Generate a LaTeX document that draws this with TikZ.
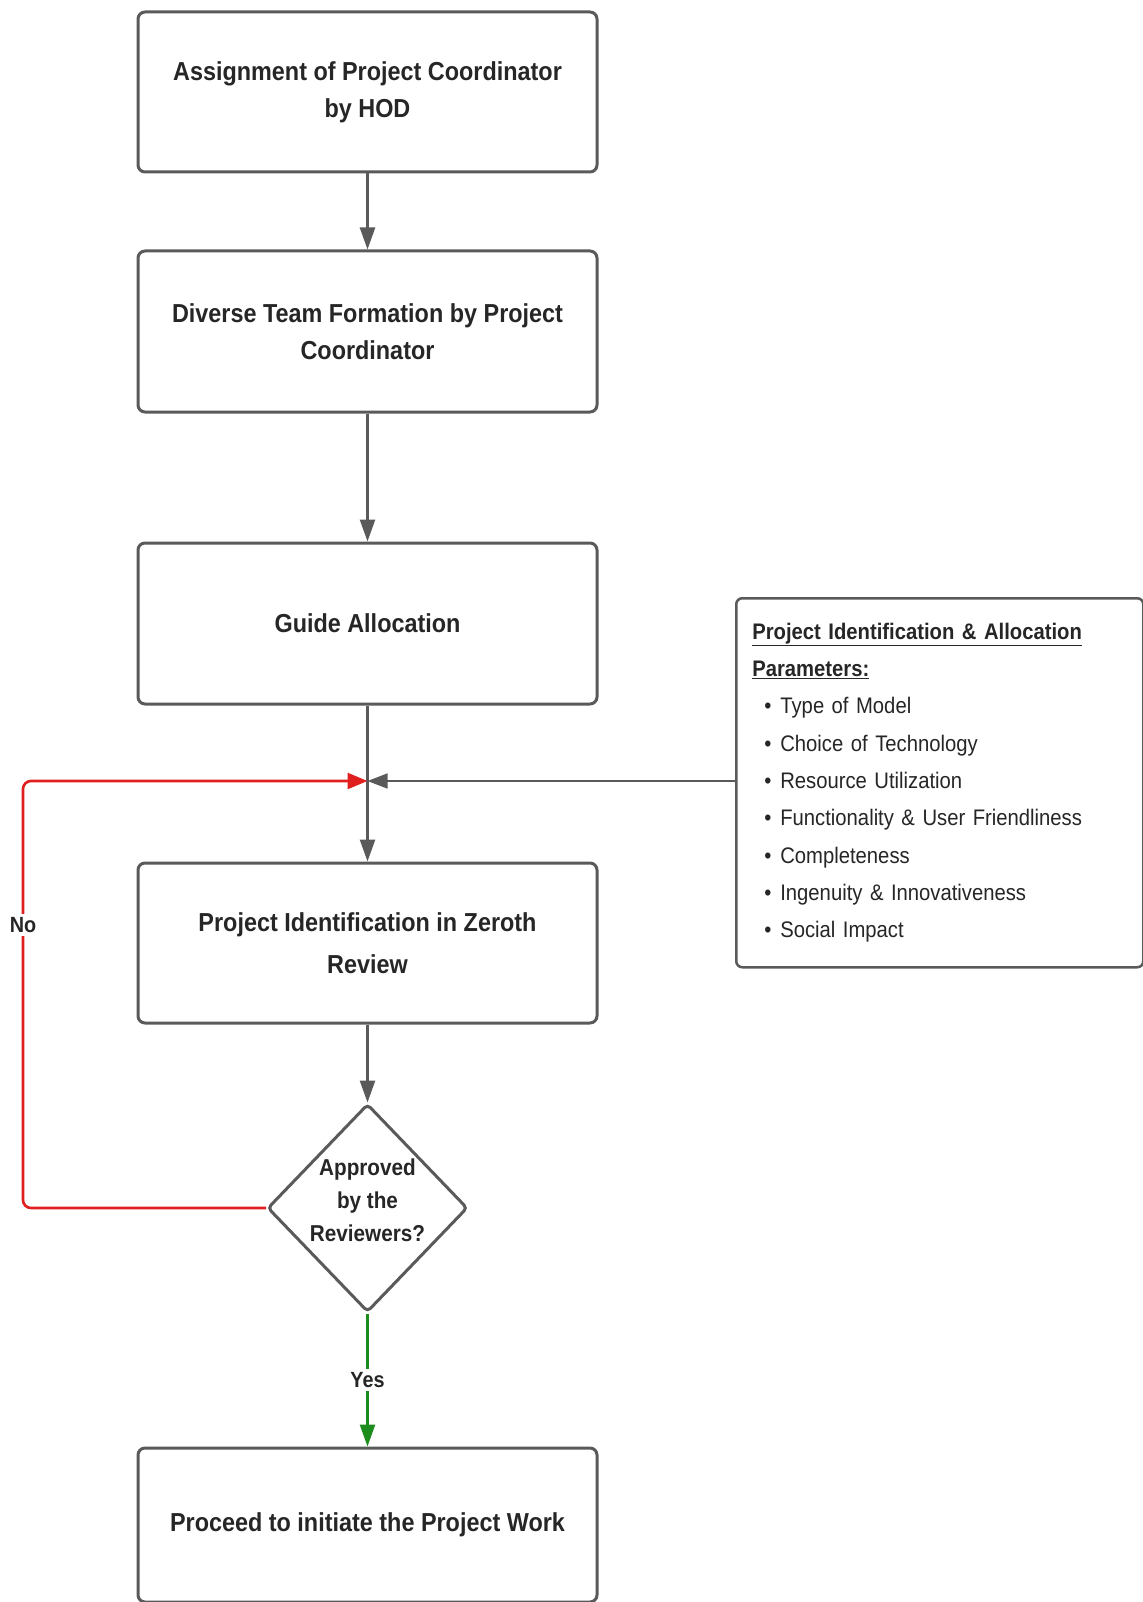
\documentclass[tikz,border=0pt]{standalone}
\usepackage{fontspec}
\setmainfont{Liberation Sans}[FakeStretch=0.9]
\usetikzlibrary{arrows.meta,shapes.geometric}
\definecolor{boxgray}{HTML}{5A5A5A}
\definecolor{txtgray}{HTML}{262626}
\definecolor{noRed}{HTML}{E0201F}
\definecolor{yesGreen}{HTML}{1C8C1C}
\tikzset{
  procbox/.style={draw=boxgray, line width=3pt, rounded corners=7pt, fill=white,
    minimum width=459pt, align=center, text=txtgray,
    font=\fontsize{26}{37}\selectfont\bfseries},
  flow/.style={draw=boxgray, line width=2.6pt, -{Triangle[length=22pt,width=15pt]}},
  thinflow/.style={draw=boxgray, line width=1.5pt, -{Triangle[length=20pt,width=15pt]}},
  noflow/.style={draw=noRed, line width=2.6pt, rounded corners=8pt, -{Triangle[length=20pt,width=16pt]}},
  yesflow/.style={draw=yesGreen, line width=2.6pt, -{Triangle[length=22pt,width=15pt]}},
  lbl/.style={fill=white, text=txtgray, inner sep=3pt, font=\fontsize{22}{26}\selectfont\bfseries},
}
\begin{document}
\begin{tikzpicture}[x=1pt,y=-1pt]
\useasboundingbox (0,0) rectangle (1142,1602);
\node[procbox, minimum height=160pt] (b1) at (367.5,92) {Assignment of Project Coordinator\\by HOD};
\node[procbox, minimum height=161pt] (b2) at (367.5,331.5) {Diverse Team Formation by Project\\Coordinator};
\node[procbox, minimum height=161pt] (b3) at (367.5,623.5) {Guide Allocation};
\node[procbox, minimum height=160pt, font=\fontsize{26}{42}\selectfont\bfseries] (b4) at (367.5,943) {Project Identification in Zeroth\\Review};
\node[draw=boxgray, line width=3pt, rounded corners=4pt, fill=white, diamond, inner sep=0pt,
  minimum width=200pt, minimum height=208pt] (dia) at (367.5,1208) {};
\node[align=center, text=txtgray, font=\fontsize{23}{33}\selectfont\bfseries] (diat) at (367.5,1200) {Approved\\by the\\Reviewers?};
\node[procbox, minimum height=154pt] (b5) at (367.5,1525) {Proceed to initiate the Project Work};
\node[draw=boxgray, line width=2.5pt, rounded corners=6pt, fill=white, anchor=north west,
  minimum width=407pt, minimum height=369pt, text width=375pt, inner xsep=16pt,
  align=left, text=txtgray, font=\fontsize{22.5}{37.3}\selectfont] (params) at (735,597)
  {\textbf{\underline{Project Identification \& Allocation}}\\
   \textbf{\underline{Parameters:}}\\
   \hspace*{12pt}\textbullet\hspace{9pt}Type of Model\\
   \hspace*{12pt}\textbullet\hspace{9pt}Choice of Technology\\
   \hspace*{12pt}\textbullet\hspace{9pt}Resource Utilization\\
   \hspace*{12pt}\textbullet\hspace{9pt}Functionality \& User Friendliness\\
   \hspace*{12pt}\textbullet\hspace{9pt}Completeness\\
   \hspace*{12pt}\textbullet\hspace{9pt}Ingenuity \& Innovativeness\\
   \hspace*{12pt}\textbullet\hspace{9pt}Social Impact};
\coordinate (j) at (367.5,781);
\coordinate (noturn) at (23,781);
\draw[flow] (b1) -- (b2);
\draw[flow] (b2) -- (b3);
\draw[flow] (b3) -- (b4);
\draw[flow] (b4) -- (dia);
\draw[thinflow] (params.west |- j) -- (j);
\draw[noflow] (dia.west) -| (noturn) -- (j);
\node[lbl] (nolbl) at (23,925) {No};
\draw[yesflow] (dia.south) -- node[lbl] (yeslbl) {Yes} (b5.north);
\end{tikzpicture}
\end{document}
